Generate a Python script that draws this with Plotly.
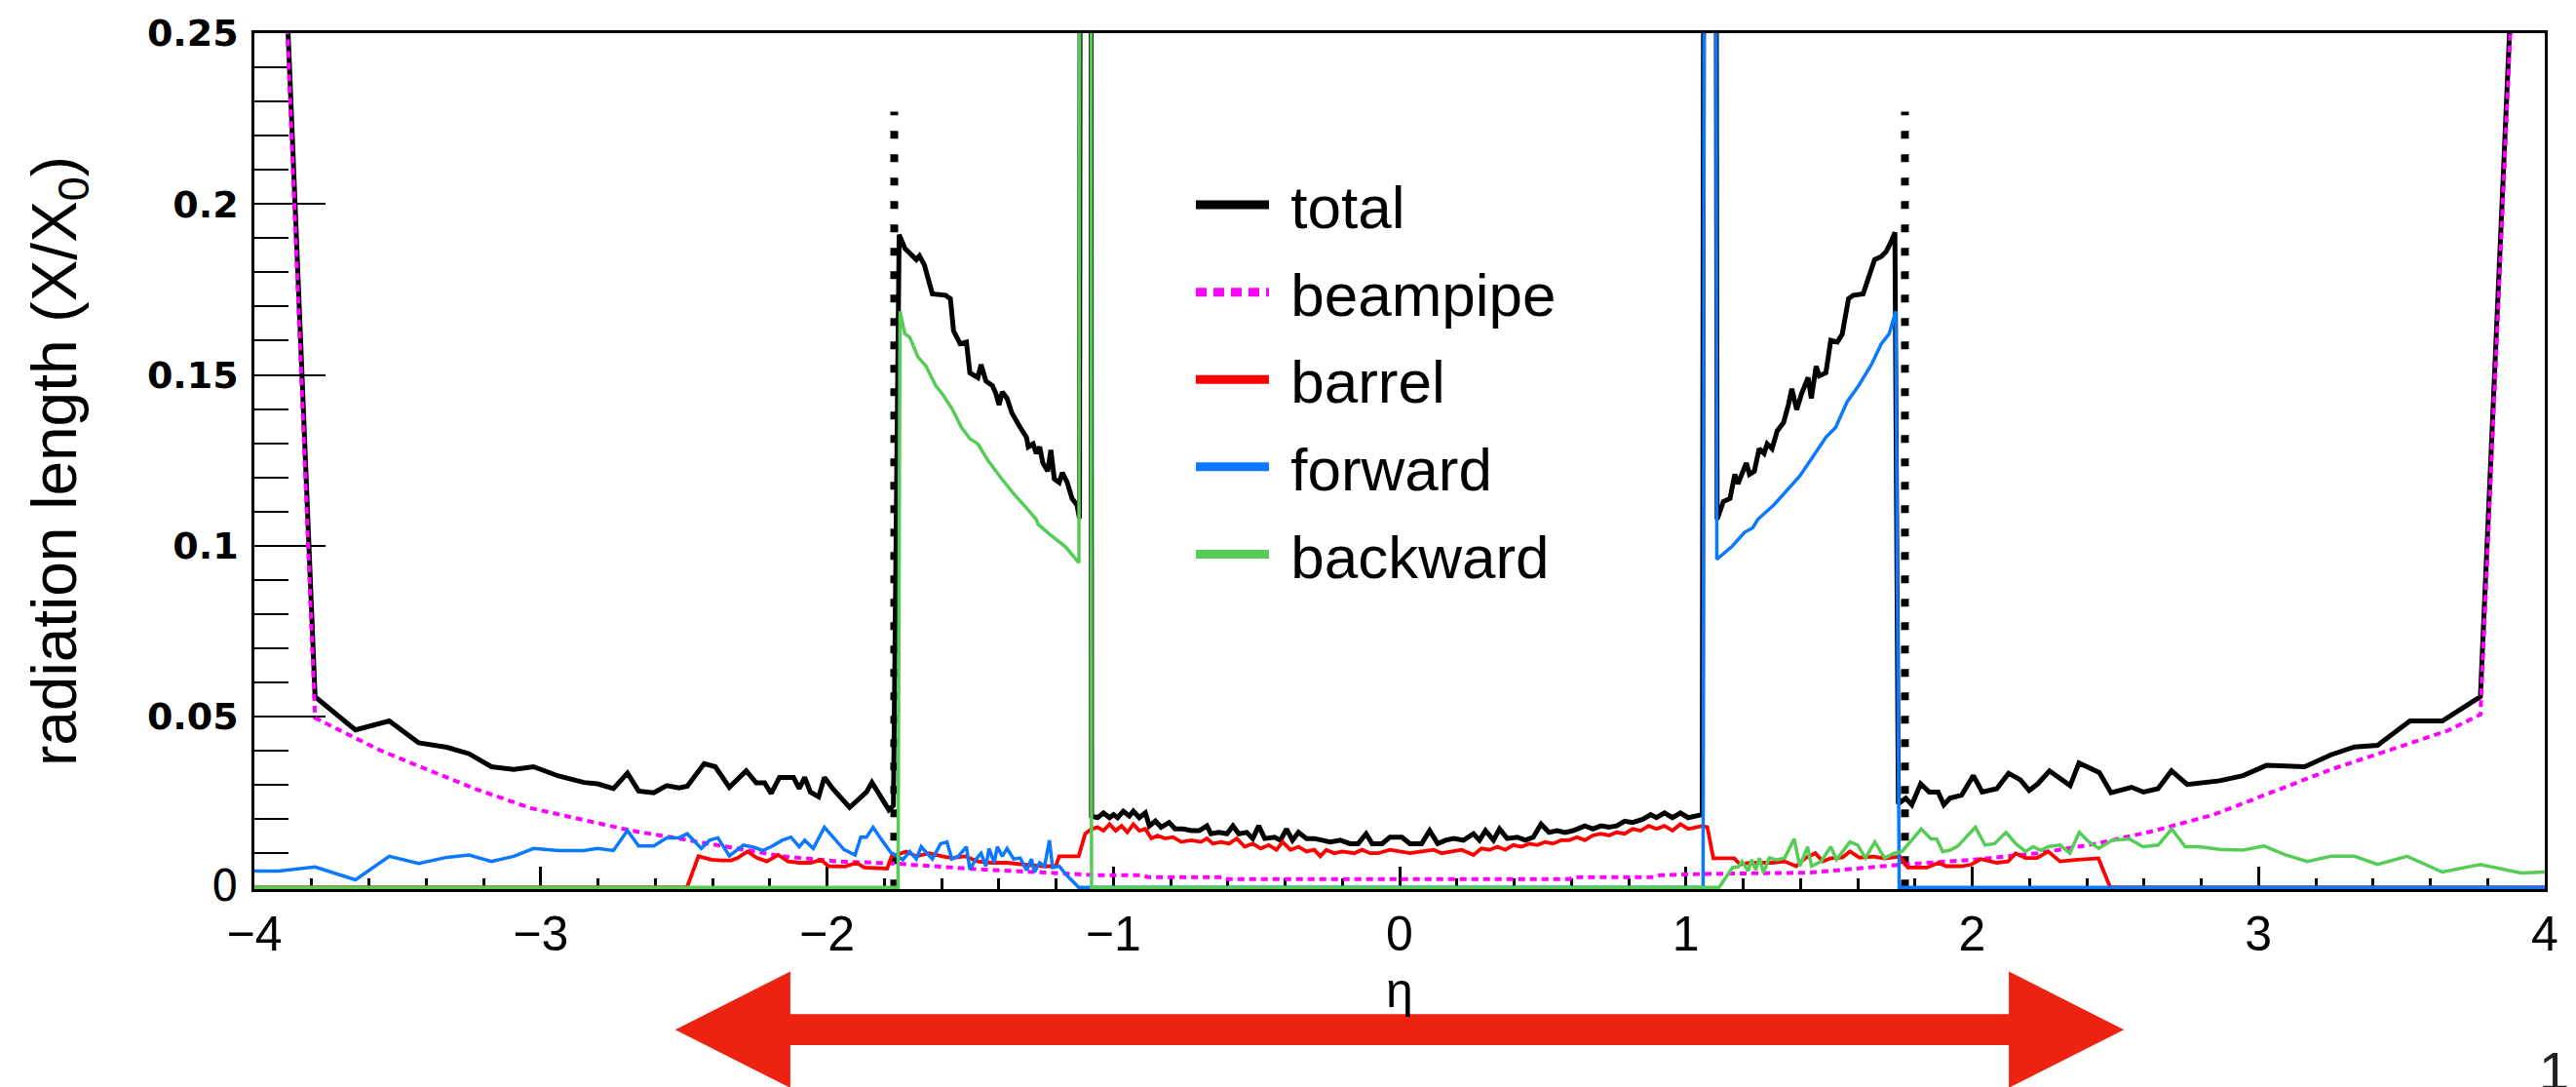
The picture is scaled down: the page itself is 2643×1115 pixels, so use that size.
import plotly.graph_objects as go

# ---------------- data ----------------
TOTAL_ETA = [-3.95, -3.788, -3.647, -3.529, -3.426, -3.328, -3.25, -3.172, -3.094, -3.025, -2.938, -2.849, -2.801,
             -2.746, -2.697, -2.658, -2.605, -2.56, -2.517, -2.488, -2.429, -2.39, -2.341, -2.282, -2.247, -2.218,
             -2.195, -2.166, -2.117, -2.097, -2.078, -2.058, -2.029, -2.009, -1.98, -1.951, -1.921, -1.892, -1.862,
             -1.843, -1.813, -1.784, -1.768,
             -1.748, -1.728, -1.705, -1.688, -1.677, -1.66, -1.632, -1.586, -1.569, -1.558, -1.535, -1.513, -1.501,
             -1.473, -1.462, -1.445, -1.422, -1.41, -1.399, -1.388, -1.371, -1.354, -1.325, -1.303, -1.297, -1.28,
             -1.269, -1.257, -1.246, -1.229, -1.218, -1.206, -1.189, -1.178, -1.161, -1.144, -1.127, -1.118,
             -1.112, -1.08,
             -1.076, -1.055, -1.034, -1.013, -0.999, -0.985, -0.965, -0.944, -0.93, -0.909, -0.888, -0.874, -0.853,
             -0.833, -0.805, -0.784, -0.756, -0.728, -0.7, -0.673, -0.659, -0.631, -0.603, -0.582, -0.562, -0.534,
             -0.513, -0.492, -0.471, -0.437, -0.416, -0.395, -0.374, -0.353, -0.325, -0.298, -0.27, -0.242, -0.207,
             -0.173, -0.145, -0.117, -0.096, -0.061, -0.034, 0.008, 0.036, 0.077, 0.105, 0.133, 0.161, 0.189, 0.223,
             0.258, 0.279, 0.3, 0.328, 0.349, 0.376, 0.411, 0.439, 0.467, 0.494, 0.522, 0.55, 0.578, 0.606, 0.647,
             0.675, 0.703, 0.731, 0.758, 0.786, 0.814, 0.849, 0.877, 0.897, 0.925, 0.953, 0.981, 1.008, 1.036, 1.057,
             1.068, 1.1,
             1.109, 1.131, 1.154, 1.171, 1.182, 1.211, 1.222, 1.239, 1.256, 1.273, 1.284, 1.301, 1.319, 1.341, 1.358,
             1.37, 1.387, 1.404, 1.427, 1.438, 1.455, 1.466, 1.489, 1.506, 1.529, 1.546, 1.568, 1.585, 1.619, 1.636,
             1.659, 1.682, 1.699, 1.716, 1.73,
             1.742, 1.768, 1.789, 1.82, 1.85, 1.881, 1.901, 1.922, 1.963, 2.004, 2.035, 2.086, 2.127, 2.168, 2.199,
             2.229, 2.27, 2.342, 2.373, 2.444, 2.485, 2.516, 2.557, 2.598, 2.649, 2.696, 2.751, 2.864, 2.946, 3.028,
             3.099, 3.161, 3.253, 3.335, 3.416, 3.529, 3.642, 3.775, 3.95]
TOTAL_X0 = [0.39, 0.0558, 0.0461, 0.0487, 0.0423, 0.041, 0.0391, 0.0353, 0.0345, 0.0353, 0.0326, 0.0307, 0.0303,
            0.0289, 0.0334, 0.0282, 0.0277, 0.0298, 0.0291, 0.0296, 0.0362, 0.0353, 0.0293, 0.0341, 0.0306, 0.0306,
            0.0275, 0.0322, 0.0322, 0.0289, 0.0322, 0.0279, 0.0265, 0.0322, 0.0289, 0.0261, 0.0234, 0.0256, 0.0279,
            0.0307, 0.0265, 0.0227, 0.024,
            0.191, 0.187, 0.185, 0.1837, 0.1848, 0.1822, 0.1737, 0.1733, 0.1723, 0.1629, 0.1591, 0.1596, 0.1506,
            0.1492, 0.153, 0.1482, 0.1468, 0.1445, 0.1412, 0.145, 0.1431, 0.1388, 0.1346, 0.1317, 0.1289, 0.1298,
            0.127, 0.1289, 0.1242, 0.1218, 0.128, 0.1195, 0.1185, 0.1214, 0.1185, 0.1138, 0.1119, 0.108,
            0.6, 0.6,
            0.0209, 0.0204, 0.0218, 0.0204, 0.0213, 0.0204, 0.0223, 0.0209, 0.0223, 0.0204, 0.0218, 0.018, 0.0194,
            0.0176, 0.019, 0.0171, 0.0171, 0.0166, 0.0166, 0.018, 0.0157, 0.0161, 0.0157, 0.018, 0.0157, 0.0161,
            0.0143, 0.018, 0.0143, 0.0147, 0.0138, 0.0171, 0.0138, 0.0161, 0.0143, 0.0143, 0.0138, 0.0133, 0.0138,
            0.0128, 0.0128, 0.0157, 0.0128, 0.0128, 0.0147, 0.0147, 0.0128, 0.0128, 0.0166, 0.0128, 0.0138, 0.0143,
            0.0138, 0.0157, 0.0138, 0.0166, 0.0138, 0.0171, 0.0143, 0.0147, 0.0138, 0.0147, 0.0185, 0.0161, 0.0166,
            0.0161, 0.0166, 0.018, 0.0171, 0.018, 0.0176, 0.018, 0.0194, 0.019, 0.0199, 0.0213, 0.0204, 0.0218,
            0.0204, 0.0218, 0.0204, 0.0209, 0.0213,
            0.6, 0.6,
            0.1077, 0.1129, 0.1138, 0.1209, 0.1181, 0.1242, 0.1209, 0.1218, 0.1284, 0.127, 0.1298, 0.1284, 0.1336,
            0.136, 0.1412, 0.1459, 0.1398, 0.1445, 0.1492, 0.1431, 0.1525, 0.1497, 0.1506, 0.1601, 0.1596, 0.1619,
            0.1723, 0.1733, 0.1737, 0.178, 0.1837, 0.1846, 0.186, 0.1888, 0.1917,
            0.0245, 0.0261, 0.0242, 0.0303, 0.0279, 0.0279, 0.0242, 0.0261, 0.027, 0.0327, 0.0279, 0.0289, 0.0334,
            0.0315, 0.0284, 0.0303, 0.0341, 0.0298, 0.0364, 0.0336, 0.0277, 0.0284, 0.0293, 0.0279, 0.0289, 0.0341,
            0.0301, 0.0312, 0.0327, 0.0357, 0.0353, 0.0353, 0.0388, 0.0411, 0.0416, 0.0487, 0.0487, 0.0558, 0.39]

BEAMPIPE_ETA = [-3.95, -3.788, -3.7, -3.563, -3.426, -3.231, -3.035, -2.84, -2.683, -2.546, -2.351, -2.156, -1.96,
                -1.765, -1.472, -1.159, -1.06, -0.9, -0.88, -0.62, -0.6, 0.59, 0.61, 0.89, 0.91, 1.103, 1.43, 1.758,
                2.003, 2.229, 2.434, 2.638, 2.844, 3.048, 3.253, 3.458, 3.662, 3.775, 3.95]
BEAMPIPE_X0 = [0.385, 0.0496, 0.0459, 0.0402, 0.0355, 0.0289, 0.0232, 0.0194, 0.0166, 0.0147, 0.0119, 0.0091, 0.0076,
               0.007, 0.0053, 0.0039, 0.0036, 0.0036, 0.003, 0.003, 0.0024, 0.0024, 0.003, 0.003, 0.0036, 0.004,
               0.0043, 0.0067, 0.0081, 0.01, 0.0128, 0.0166, 0.0213, 0.0279, 0.0345, 0.0402, 0.0459, 0.0506, 0.385]

BARREL_ETA = [-4.1, -2.489, -2.449, -2.403, -2.369, -2.335, -2.312, -2.278, -2.244, -2.21, -2.17, -2.136, -2.096,
              -2.056, -2.022, -1.994, -1.937, -1.897, -1.869, -1.79, -1.774, -1.723, -1.688, -1.643, -1.598, -1.564,
              -1.518, -1.473, -1.427, -1.371, -1.314, -1.246, -1.201, -1.189, -1.121, -1.098,
              -1.076, -1.055, -1.034, -1.013, -0.992, -0.971, -0.951, -0.93, -0.909, -0.888, -0.867, -0.846, -0.819,
              -0.791, -0.763, -0.728, -0.694, -0.673, -0.652, -0.624, -0.596, -0.569, -0.541, -0.513, -0.485, -0.457,
              -0.43, -0.409, -0.381, -0.353, -0.325, -0.298, -0.277, -0.256, -0.228, -0.2, -0.159, -0.131, -0.103,
              -0.075, -0.034, 0.008, 0.036, 0.077, 0.119, 0.147, 0.175, 0.217, 0.258, 0.286, 0.314, 0.342, 0.369,
              0.397, 0.425, 0.453, 0.481, 0.508, 0.536, 0.564, 0.592, 0.62, 0.647, 0.675, 0.703, 0.731, 0.758, 0.786,
              0.814, 0.842, 0.87, 0.897, 0.925, 0.953, 0.981, 1.008, 1.036, 1.057,
              1.075, 1.085, 1.096, 1.169, 1.189, 1.223, 1.3, 1.345, 1.385, 1.418, 1.452, 1.478, 1.506, 1.546, 1.573,
              1.607, 1.654, 1.694, 1.748, 1.775, 1.842, 1.882, 1.909, 1.963, 1.997, 2.031, 2.085, 2.125, 2.152,
              2.186, 2.226, 2.266, 2.307, 2.367, 2.441, 2.482, 4.1]
BARREL_X0 = [0.0, 0.0, 0.0091, 0.0081, 0.0079, 0.0079, 0.0086, 0.0105, 0.0086, 0.0076, 0.0095, 0.0076, 0.0072,
             0.0072, 0.0081, 0.0062, 0.0061, 0.0072, 0.0058, 0.0055, 0.0091, 0.0105, 0.0091, 0.01, 0.0091, 0.0086,
             0.0091, 0.0076, 0.0072, 0.0072, 0.0067, 0.0062, 0.0062, 0.0091, 0.0091, 0.0157,
             0.0171, 0.0176, 0.0166, 0.0185, 0.0166, 0.018, 0.0161, 0.0185, 0.0166, 0.0171, 0.0143, 0.0152, 0.0143,
             0.0147, 0.0133, 0.0138, 0.0133, 0.0143, 0.0128, 0.0133, 0.0128, 0.0143, 0.0119, 0.0128, 0.0114, 0.0124,
             0.011, 0.0133, 0.011, 0.0119, 0.0105, 0.011, 0.0091, 0.011, 0.01, 0.0105, 0.01, 0.011, 0.01, 0.01,
             0.011, 0.0105, 0.01, 0.0105, 0.011, 0.01, 0.0105, 0.011, 0.0095, 0.0114, 0.011, 0.0119, 0.011, 0.0124,
             0.0119, 0.0128, 0.0124, 0.0133, 0.0128, 0.0138, 0.0138, 0.0147, 0.0138, 0.0152, 0.0157, 0.0152, 0.0161,
             0.0157, 0.0171, 0.0166, 0.018, 0.0171, 0.018, 0.0166, 0.0185, 0.0171, 0.0176, 0.018,
             0.0176, 0.0125, 0.0085, 0.0085, 0.0067, 0.0072, 0.0072, 0.0076, 0.0062, 0.0086, 0.01, 0.0076, 0.0085,
             0.0087, 0.0105, 0.0087, 0.009, 0.0085, 0.009, 0.0058, 0.0058, 0.0072, 0.0062, 0.0062, 0.0067, 0.0083,
             0.0072, 0.0076, 0.01, 0.0086, 0.0086, 0.0105, 0.0076, 0.0081, 0.0085, 0.0, 0.0]

FORWARD_ETA = [-4.08, -3.915, -3.788, -3.647, -3.529, -3.426, -3.328, -3.25, -3.172, -3.094, -3.025, -2.938, -2.849,
               -2.801, -2.746, -2.697, -2.658, -2.605, -2.56, -2.517, -2.488, -2.439, -2.41, -2.381, -2.341, -2.292,
               -2.254, -2.224, -2.195, -2.156, -2.126, -2.097, -2.078, -2.048, -2.009, -1.98, -1.941, -1.902, -1.882,
               -1.862, -1.839, -1.808, -1.775, -1.768, -1.735, -1.711, -1.688, -1.671, -1.649, -1.632, -1.603,
               -1.581, -1.564, -1.541, -1.513, -1.501, -1.479, -1.462, -1.445, -1.434, -1.416, -1.405, -1.388,
               -1.371, -1.348, -1.325, -1.303, -1.286, -1.275, -1.257, -1.24, -1.223, -1.212, -1.189, -1.161,
               -1.121, 1.06, 1.068, 1.1, 1.108, 1.16, 1.205, 1.234, 1.251, 1.307, 1.353, 1.398, 1.444, 1.489, 1.523,
               1.563, 1.603, 1.648, 1.682, 1.71, 1.733, 1.745, 4.1]
FORWARD_X0 = [0.0048, 0.0048, 0.006, 0.0022, 0.0091, 0.007, 0.0088, 0.0095, 0.0076, 0.0091, 0.0114, 0.0108, 0.0108,
              0.0114, 0.0108, 0.0166, 0.0121, 0.0121, 0.0145, 0.0145, 0.0157, 0.0114, 0.0138, 0.0145, 0.0092, 0.0124,
              0.0117, 0.0108, 0.0119, 0.0138, 0.0147, 0.0119, 0.0138, 0.0114, 0.0176, 0.0147, 0.0111, 0.0095, 0.0147,
              0.0147, 0.0176, 0.0138, 0.01, 0.0098, 0.0081, 0.0105, 0.0083, 0.0119, 0.01, 0.0083, 0.0128, 0.0133,
              0.0083, 0.0091, 0.0119, 0.0053, 0.0083, 0.01, 0.0062, 0.0114, 0.0072, 0.0119, 0.0091, 0.0114, 0.0083,
              0.0086, 0.005, 0.0083, 0.0045, 0.0072, 0.0062, 0.0138, 0.0058, 0.0062, 0.0034, 0.0, 0.0, 0.6, 0.6,
              0.096, 0.0997, 0.1039, 0.1053, 0.1077, 0.1119, 0.1162, 0.1204, 0.1261, 0.1317, 0.1346, 0.1421, 0.1468,
              0.153, 0.159, 0.162, 0.1686, 0.0, 0.0]

BACKWARD_ETA = [-4.1, -1.752, -1.745, -1.728, -1.711, -1.683, -1.654, -1.62, -1.598, -1.564, -1.53, -1.501, -1.473,
                -1.439, -1.393, -1.348, -1.303, -1.269, -1.263, -1.223, -1.167, -1.12, -1.112, -1.08, -1.076, 1.103,
                1.116, 1.163, 1.183, 1.196, 1.217, 1.23, 1.244, 1.257, 1.271, 1.291, 1.318, 1.345, 1.378, 1.398,
                1.425, 1.439, 1.472, 1.506, 1.526, 1.573, 1.6, 1.627, 1.66, 1.694, 1.728, 1.755, 1.789, 1.822, 1.856,
                1.876, 1.897, 1.923, 1.95, 1.977, 2.011, 2.045, 2.078, 2.118, 2.152, 2.186, 2.213, 2.239, 2.266,
                2.307, 2.341, 2.374, 2.408, 2.442, 2.489, 2.549, 2.596, 2.65, 2.697, 2.744, 2.792, 2.866, 2.946, 3.02,
                3.094, 3.171, 3.253, 3.335, 3.416, 3.519, 3.642, 3.775, 3.918, 4.08]
BACKWARD_X0 = [0.0, 0.0, 0.1686, 0.162, 0.161, 0.1553, 0.1525, 0.1468, 0.1445, 0.1402, 0.1346, 0.1313, 0.1298,
               0.1251, 0.1199, 0.1152, 0.111, 0.1077, 0.1063, 0.1034, 0.0997, 0.095, 0.6, 0.6, 0.0, 0.0, 0.0, 0.0058,
               0.006, 0.0076, 0.0048, 0.0081, 0.0051, 0.0086, 0.0043, 0.0086, 0.0081, 0.0086, 0.0142, 0.0062, 0.0119,
               0.0062, 0.0076, 0.0119, 0.0081, 0.0133, 0.0124, 0.0086, 0.0133, 0.0086, 0.01, 0.0105, 0.0138, 0.0171,
               0.0142, 0.0142, 0.0105, 0.0109, 0.0121, 0.0147, 0.0176, 0.0124, 0.0128, 0.0161, 0.0128, 0.0105, 0.0119,
               0.0108, 0.0119, 0.0124, 0.01, 0.0161, 0.0133, 0.0114, 0.0138, 0.0142, 0.0119, 0.0124, 0.0171, 0.0119,
               0.0119, 0.0111, 0.0109, 0.0121, 0.0095, 0.0076, 0.0091, 0.0091, 0.0067, 0.0091, 0.0045, 0.0067, 0.0042,
               0.0048]

ENDCAP_EDGE_ETA = [-1.765, 1.765]
ENDCAP_EDGE_TOP = 0.227
ARROW_TIP_ETA = 2.53
ARROW_BASE_ETA = 2.128

X_TICKS = [-4, -3, -2, -1, 0, 1, 2, 3, 4]
X_TICKTEXT = ["\u22124", "\u22123", "\u22122", "\u22121", "0", "1", "2", "3", "4"]
Y_TICKS = [0, 0.05, 0.1, 0.15, 0.2, 0.25]
Y_TICKTEXT = ["<span style='font-size:44px;font-weight:normal'>0</span>", "0.05", "0.1", "0.15", "0.2", "0.25"]

SERIES = [
    ("total", TOTAL_ETA, TOTAL_X0, "#000000", 5, "solid"),
    ("beampipe", BEAMPIPE_ETA, BEAMPIPE_X0, "#FF00FF", 4, "7px,5px"),
    ("barrel", BARREL_ETA, BARREL_X0, "#FF0000", 3.8, "solid"),
    ("forward", FORWARD_ETA, FORWARD_X0, "#0A78FF", 3.5, "solid"),
    ("backward", BACKWARD_ETA, BACKWARD_X0, "#55CC55", 3.5, "solid"),
]
LEGEND_DASH = {"beampipe": "11px,7px"}

# ---------------- figure ----------------
W, H = 2643, 1115
ML, MR, MT, MB = 261, 32, 29, 203
PH = H - MT - MB
PW = W - ML - MR
XMIN, XMAX = -4, 4
YMIN, YMAX = -0.0005, 0.25

fig = go.Figure()

for e in ENDCAP_EDGE_ETA:
    fig.add_trace(go.Scatter(x=[e, e], y=[0, ENDCAP_EDGE_TOP], mode="lines",
                             line=dict(color="black", width=8, dash="8px,16px"),
                             showlegend=False, hoverinfo="skip"))

for name, xs, ys, col, w, dash in SERIES:
    fig.add_trace(go.Scatter(x=xs, y=ys, mode="lines", name=name,
                             line=dict(color=col, width=w, dash=dash),
                             showlegend=False, hoverinfo="skip"))

for name, xs, ys, col, w, dash in SERIES:
    fig.add_trace(go.Scatter(x=[None], y=[None], mode="lines", name="\u00a0" + name, legendgroup=name,
                             line=dict(color=col, width=9, dash=LEGEND_DASH.get(name, "solid")),
                             showlegend=True))


def px_to_paper_y(py):
    return (H - MB - py) / PH


def eta_to_paper_x(e):
    return (e - XMIN) / (XMAX - XMIN)


yc = px_to_paper_y(1057)
yht = px_to_paper_y(997)
yhb = px_to_paper_y(1117)
yst = px_to_paper_y(1041)
ysb = px_to_paper_y(1073)
lt, lb = eta_to_paper_x(-ARROW_TIP_ETA), eta_to_paper_x(-ARROW_BASE_ETA)
rt, rb = eta_to_paper_x(ARROW_TIP_ETA), eta_to_paper_x(ARROW_BASE_ETA)
arrow_path = (f"M {lt},{yc} L {lb},{yht} L {lb},{yst} L {rb},{yst} L {rb},{yht} L {rt},{yc} "
              f"L {rb},{yhb} L {rb},{ysb} L {lb},{ysb} L {lb},{yhb} Z")
fig.add_shape(type="path", path=arrow_path, xref="paper", yref="paper",
              fillcolor="#EE2211", line=dict(width=0), layer="above")

# x-axis title (eta), placed just above the arrow
fig.add_annotation(text="\u03b7", xref="paper", yref="paper", x=eta_to_paper_x(0), y=px_to_paper_y(1017),
                   xanchor="center", yanchor="middle", showarrow=False,
                   font=dict(family="Liberation Sans", size=50, color="black"))

# slide page number (partly cut by the lower edge as in the reference)
fig.add_annotation(text="1", xref="paper", yref="paper", x=(2620 - ML) / PW, y=px_to_paper_y(1066),
                   xanchor="center", yanchor="top", showarrow=False,
                   font=dict(family="Liberation Sans", size=56, color="#222222"))

fig.update_layout(
    width=W, height=H,
    margin=dict(l=ML, r=MR, t=MT, b=MB, pad=0),
    paper_bgcolor="white", plot_bgcolor="white",
    font=dict(family="Liberation Sans, Arial, sans-serif", color="black"),
    showlegend=True,
    legend=dict(x=(1222 - ML) / PW, y=px_to_paper_y(159), xanchor="left", yanchor="top",
                bgcolor="rgba(0,0,0,0)", borderwidth=0, font=dict(size=62, family="Liberation Sans"),
                itemwidth=75, tracegroupgap=6, traceorder="grouped"),
    xaxis=dict(range=[XMIN, XMAX], showgrid=False, zeroline=False, showline=True, mirror=True,
               linecolor="black", linewidth=2.5, layer="below traces",
               ticks="inside", ticklen=23, tickwidth=3, tickcolor="black",
               tickvals=X_TICKS, ticktext=X_TICKTEXT,
               tickfont=dict(size=50, family="Liberation Sans"),
               minor=dict(dtick=0.2, ticks="inside", ticklen=11, tickwidth=3, tickcolor="black", showgrid=False)),
    yaxis=dict(range=[YMIN, YMAX], showgrid=False, zeroline=False, showline=True, mirror=True,
               linecolor="black", linewidth=2.5, layer="below traces",
               ticks="inside", ticklen=73, tickwidth=2, tickcolor="black",
               tickvals=Y_TICKS, ticktext=Y_TICKTEXT, ticklabelstandoff=6,
               tickfont=dict(size=38, family="DejaVu Sans", weight="bold"),
               minor=dict(dtick=0.01, tick0=0, ticks="inside", ticklen=35, tickwidth=2, tickcolor="black",
                          showgrid=False),
               title=dict(text="radiation length (X/X<sub>0</sub>)", font=dict(size=64, family="Liberation Sans"),
                          standoff=52)),
)

fig.write_html("out.html")
